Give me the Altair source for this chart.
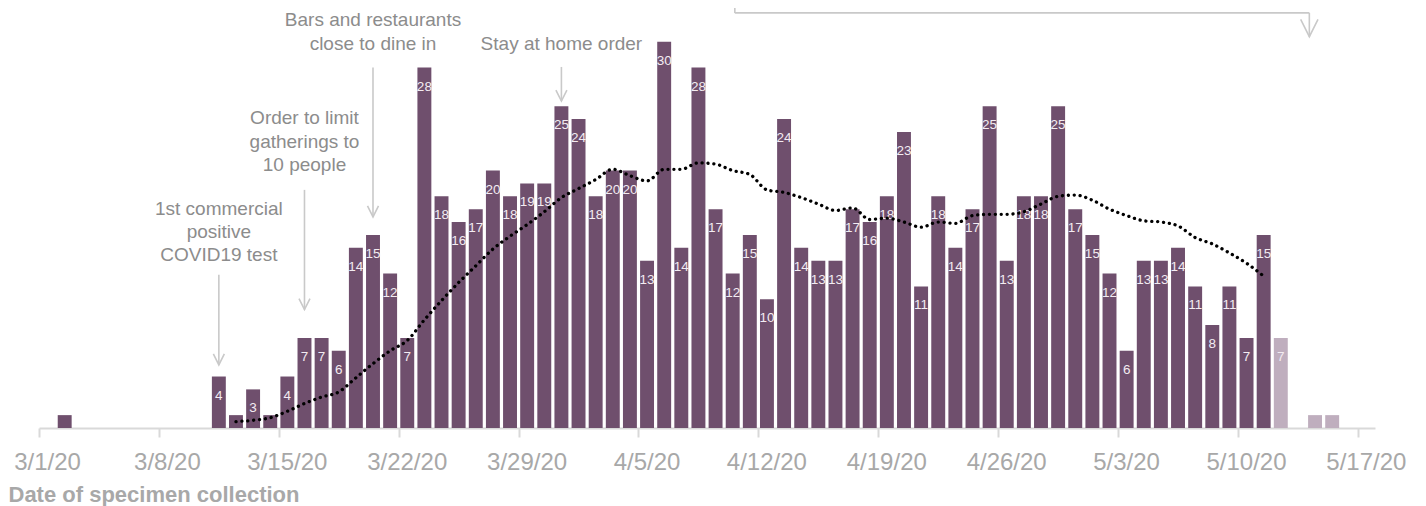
import altair as alt
import pandas as pd

# ---------------- data ----------------
first_day = "2020-03-01"
# daily counts, 3/1/20 .. 5/15/20
daily_counts = [
    0, 1, 0, 0, 0, 0, 0, 0, 0, 0,                      # 3/1 - 3/10
    4, 1, 3, 1, 4, 7, 7, 6, 14, 15, 12, 7,             # 3/11 - 3/22
    28, 18, 16, 17, 20, 18, 19, 19, 25,                # 3/23 - 3/31
    24, 18, 20, 20, 13, 30, 14, 28, 17, 12,            # 4/1 - 4/10
    15, 10, 24, 14, 13, 13, 17, 16, 18, 23,            # 4/11 - 4/20
    11, 18, 14, 17, 25, 13, 18, 18, 25, 17,            # 4/21 - 4/30
    15, 12, 6, 13, 13, 14, 11, 8, 11, 7,               # 5/1 - 5/10
    15, 7, 0, 1, 1,                                    # 5/11 - 5/15
]
provisional_days = ["2020-05-12", "2020-05-13", "2020-05-14", "2020-05-15"]

# dotted moving average, 3/12/20 .. 5/11/20
avg_first_day = "2020-03-12"
avg_values = [
    0.5, 0.6, 0.8, 1.3, 1.9, 2.4, 2.8, 3.9, 5.0, 6.0, 6.8,
    8.4, 9.9, 11.3, 12.6, 13.9, 14.9, 15.8, 16.8, 17.9,
    18.6, 19.3, 20.1, 19.6, 19.2, 20.1, 20.1, 20.6, 20.5, 20.0,
    19.7, 18.5, 18.3, 17.9, 17.4, 16.9, 17.1, 16.2, 16.3, 16.0,
    15.6, 16.0, 15.9, 16.5, 16.6, 16.6, 16.8, 17.4, 18.0, 18.1,
    17.7, 17.0, 16.5, 16.1, 16.0, 15.7, 14.8, 14.3, 13.6, 12.8, 11.8,
]

tick_days = ["2020-03-01", "2020-03-08", "2020-03-15", "2020-03-22", "2020-03-29",
             "2020-04-05", "2020-04-12", "2020-04-19", "2020-04-26", "2020-05-03",
             "2020-05-10", "2020-05-17"]

# annotations: text lines (x = date, y = value level)
note_x = ["2020-03-20T12:00", "2020-03-20T12:00",
          "2020-03-16T12:00", "2020-03-16T12:00", "2020-03-16T12:00",
          "2020-03-11T12:00", "2020-03-11T12:00", "2020-03-11T12:00",
          "2020-03-31T12:00"]
note_y = [31.7, 29.84, 24.09, 22.22, 20.44, 17.02, 15.23, 13.44, 29.84]
note_text = ["Bars and restaurants", "close to dine in",
             "Order to limit", "gatherings to", "10 people",
             "1st commercial", "positive", "COVID19 test",
             "Stay at home order"]

# annotation line segments
seg_x = ["2020-03-11T12:00", "2020-03-16T12:00", "2020-03-20T12:00", "2020-03-31T12:00",
         "2020-04-10T15:00", "2020-04-10T15:00", "2020-05-14T04:00"]
seg_x2 = ["2020-03-11T12:00", "2020-03-16T12:00", "2020-03-20T12:00", "2020-03-31T12:00",
          "2020-04-10T15:00", "2020-05-14T04:00", "2020-05-14T04:00"]
seg_y = [11.9, 18.5, 28.0, 28.05, 32.63, 32.25, 32.25]
seg_y2 = [4.9, 9.2, 16.4, 25.4, 32.25, 32.25, 30.4]

# arrow heads
head_x = ["2020-03-11T12:00", "2020-03-16T12:00", "2020-03-20T12:00", "2020-03-31T12:00",
          "2020-05-14T04:00"]
head_y = [4.9, 9.2, 16.4, 25.4, 30.4]
head_size = [121, 121, 121, 121, 300]

# ---------------- tables ----------------
days = pd.date_range(first_day, periods=len(daily_counts), freq="D")
bars = pd.DataFrame({"start": days, "value": daily_counts})
bars["end"] = bars["start"] + pd.Timedelta(days=1)
bars["mid"] = bars["start"] + pd.Timedelta(hours=12)
bars["status"] = ["provisional" if d.strftime("%Y-%m-%d") in provisional_days else "final"
                  for d in bars["start"]]
bars = bars[bars["value"] > 0].reset_index(drop=True)
bars["label"] = [str(v) if v >= 3 else "" for v in bars["value"]]

avg = pd.DataFrame({
    "mid": pd.date_range(avg_first_day, periods=len(avg_values), freq="D") + pd.Timedelta(hours=12),
    "value": avg_values,
})

notes = pd.DataFrame({"x": pd.to_datetime(note_x), "y": note_y, "text": note_text})
segs = pd.DataFrame({"x": pd.to_datetime(seg_x), "x2": pd.to_datetime(seg_x2),
                     "y": seg_y, "y2": seg_y2})
heads = pd.DataFrame({"x": pd.to_datetime(head_x), "y": head_y, "size": head_size})

# ---------------- scales / axis ----------------
def dt(s):
    t = pd.Timestamp(s)
    return alt.DateTime(year=t.year, month=t.month, date=t.day)

xscale = alt.Scale(domain=[dt("2020-03-01"), dt("2020-05-18")], nice=False)
yscale = alt.Scale(domain=[0, 32.63], nice=False)
TITLE = "Date of specimen collection"

xaxis = alt.Axis(
    values=[dt(d) for d in tick_days],
    format="%-m/%-d/%y",
    labelFont="Liberation Sans", labelFontSize=24, labelColor="#a8a8a8",
    labelPadding=13, labelFlush=False, labelOverlap=False, labelOffset=8,
    domainColor="#d9d9d9", domainWidth=2,
    tickColor="#d9d9d9", tickWidth=2, tickSize=9,
    grid=False,
    titleFont="Liberation Sans", titleFontSize=22, titleFontWeight="bold",
    titleColor="#a8a8a8", titleX=-31, titleY=66, titleAlign="left",
    titleAnchor="start", titleBaseline="middle",
)

bar_layer = alt.Chart(bars).mark_bar(xOffset=1.6, x2Offset=-1.6).encode(
    x=alt.X("start:T", scale=xscale, axis=xaxis, title=TITLE),
    x2="end:T",
    y=alt.Y("value:Q", scale=yscale, axis=None),
    y2=alt.datum(0),
    color=alt.Color("status:N", legend=None,
                    scale=alt.Scale(domain=["final", "provisional"],
                                    range=["#6f4f6d", "#bfaebe"])),
)

label_layer = alt.Chart(bars).mark_text(
    dy=19, baseline="middle", align="center", font="Liberation Sans",
    fontSize=13.5, color="#f3ecf2",
).encode(
    x=alt.X("mid:T", scale=xscale, title=TITLE),
    y=alt.Y("value:Q", scale=yscale, axis=None),
    text="label:N",
)

avg_layer = alt.Chart(avg).mark_line(
    color="#000000", strokeWidth=3.3, strokeDash=[0.1, 5.8], strokeCap="round",
    interpolate="monotone",
).encode(
    x=alt.X("mid:T", scale=xscale, title=TITLE),
    y=alt.Y("value:Q", scale=yscale, axis=None),
)

seg_layer = alt.Chart(segs).mark_rule(color="#c9c9c9", strokeWidth=1.6).encode(
    x=alt.X("x:T", scale=xscale, title=TITLE),
    x2="x2:T",
    y=alt.Y("y:Q", scale=yscale, axis=None),
    y2="y2:Q",
)

head_layer = alt.Chart(heads).mark_point(
    shape="M-1,-2L0,0L1,-2", filled=False, stroke="#c9c9c9", strokeWidth=1.6, opacity=1,
).encode(
    x=alt.X("x:T", scale=xscale, title=TITLE),
    y=alt.Y("y:Q", scale=yscale, axis=None),
    size=alt.Size("size:Q", scale=None, legend=None),
)

note_layer = alt.Chart(notes).mark_text(
    align="center", baseline="middle", font="Liberation Sans", fontSize=19,
    color="#8c8c8c",
).encode(
    x=alt.X("x:T", scale=xscale, title=TITLE),
    y=alt.Y("y:Q", scale=yscale, axis=None),
    text="text:N",
)

chart = alt.layer(
    bar_layer, label_layer, avg_layer, seg_layer, head_layer, note_layer
).properties(
    width=1336, height=420,
    autosize=alt.AutoSizeParams(type="none"),
    padding={"left": 31, "top": 0, "right": 35, "bottom": 78},
    background="white",
).configure_view(stroke=None)

chart.save("out.html", embed_options={"renderer": "svg", "actions": False})
